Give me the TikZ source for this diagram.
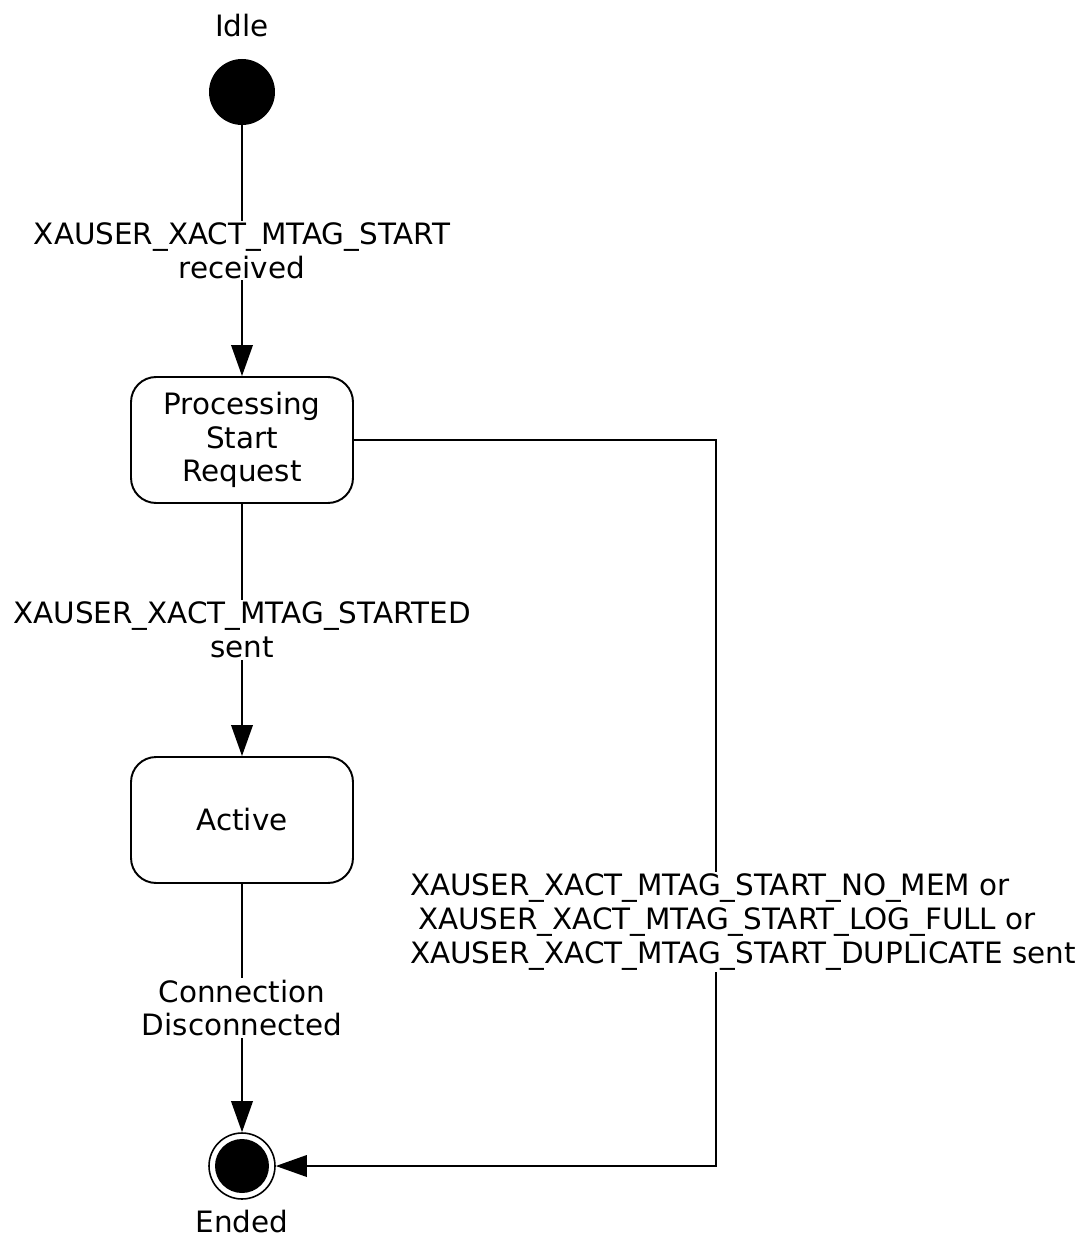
\documentclass[tikz,border=0pt]{standalone}
\usepackage{fontspec}
\setmainfont{DejaVu Sans}
\usetikzlibrary{arrows.meta,positioning,calc,shapes}

\begin{document}
\begin{tikzpicture}[x=0.02cm, y=-0.02cm,
        font=\fontsize{16.75pt}{19.2pt}\selectfont,
        state/.style={draw, line width=1.1pt, rounded corners=0.5cm, minimum width=4.44cm,
                      minimum height=2.52cm, align=center, inner sep=2pt},
        pseudo/.style={circle, fill=black, inner sep=0pt},
        ring/.style={circle, draw, line width=0.9pt, minimum size=1.32cm, inner sep=0pt},
        trans/.style={line width=1.1pt, -{Triangle[length=0.62cm, width=0.43cm]}},
        cond/.style={fill=white, align=center, inner sep=1pt}]
        % fix the page size
        \useasboundingbox (0,0) rectangle (1082,1239);

        % the start and end points
        \node[pseudo, minimum size=1.32cm] (idle) at (242,92) {};
        \node[anchor=base] (idletext) at (242,37) {Idle};
        \node[pseudo, minimum size=1.08cm] (ended) at (242,1166) {};
        \node[ring] (endring) at (242,1166) {};
        \node[anchor=base] (endedtext) at (242,1232) {Ended};

        % the two states
        \node[state] (proc) at (242,440) {Processing\\Start\\Request};
        \node[state] (active) at (242,820) {Active};
        \coordinate (corner) at (716,1166);

        % And the transitions
        \draw[trans] (idle) -- node[cond] {XAUSER\_XACT\_MTAG\_START\\received} (proc);
        \draw[trans] (proc) -- node[cond] {XAUSER\_XACT\_MTAG\_STARTED\\sent} (active);
        \draw[trans] (active) -- node[cond] {Connection\\Disconnected} (endring);
        \draw[trans] (proc.east) -| (corner)
              node[cond, align=left, pos=0.832, xshift=0.54cm] {XAUSER\_XACT\_MTAG\_START\_NO\_MEM or\\
              \hspace{0.16cm}XAUSER\_XACT\_MTAG\_START\_LOG\_FULL or\\
              XAUSER\_XACT\_MTAG\_START\_DUPLICATE sent} -- (endring);
      \end{tikzpicture}
\end{document}
